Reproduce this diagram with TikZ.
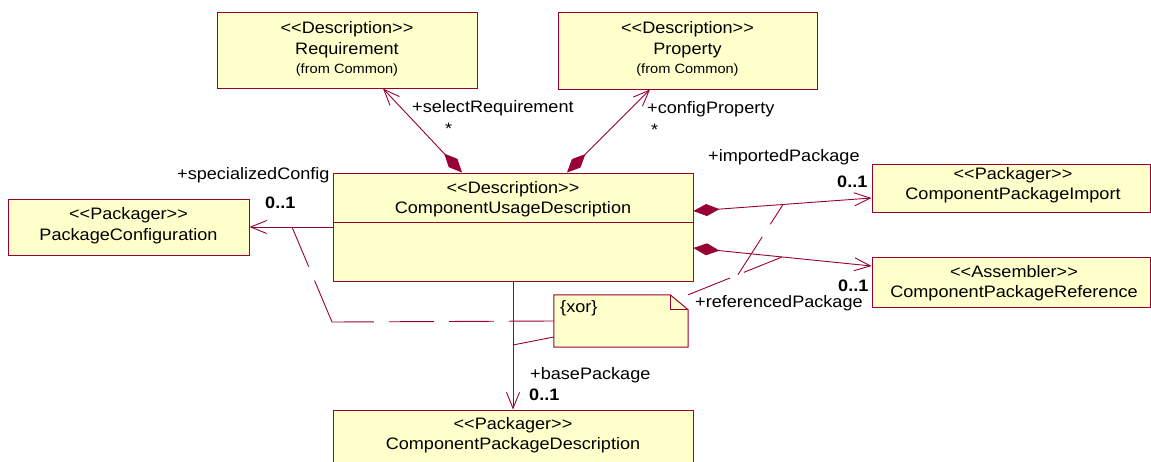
\documentclass[tikz,border=0pt]{standalone}
\usepackage{fontspec}
\setmainfont{Liberation Sans}[FakeStretch=1.09,Ligatures=TeXOff]
\usetikzlibrary{arrows.meta,calc}
\definecolor{umlline}{RGB}{153,0,51}
\definecolor{umlfill}{RGB}{255,255,204}

\begin{document}
\begin{tikzpicture}[x=1pt,y=-1pt,
  cls/.style={draw=umlline,fill=umlfill,line width=1pt,inner sep=0pt,rectangle},
  ctext/.style={align=center,inner sep=0pt,font=\fontsize{16.6}{20.5}\selectfont},
  lbl/.style={inner sep=0pt,anchor=west,font=\fontsize{16.6}{20}\selectfont},
  mult/.style={inner sep=0pt,anchor=west,font=\fontsize{16.6}{20}\selectfont\bfseries},
  conn/.style={draw=umlline,line width=0.9pt},
  assoc/.style={conn,-{Straight Barb[length=16pt,width=13pt]}},
  comp/.style={conn,{Diamond[length=26pt,width=12pt,fill=umlline]}-{Straight Barb[length=16pt,width=13pt]}},
  anchorline/.style={conn,dash pattern=on 45pt off 15pt},
]
\useasboundingbox (0,0) rectangle (1151,461);
\clip (0,0) rectangle (1151,461);

% class boxes
\node[cls,minimum width=260pt,minimum height=76pt] (req) at (347,50) {};
\node[cls,minimum width=259pt,minimum height=77pt] (prop) at (687.5,50.5) {};
\node[cls,minimum width=360pt,minimum height=108pt] (cud) at (513,227) {};
\node[cls,minimum width=241pt,minimum height=56pt] (pc) at (128.5,227) {};
\node[cls,minimum width=278pt,minimum height=48pt] (cpi) at (1011,188) {};
\node[cls,minimum width=278pt,minimum height=50pt] (cpr) at (1011,282) {};
\node[cls,minimum width=360pt,minimum height=60pt] (cpd) at (513,440) {};
\draw[umlline,line width=1pt] (cud.west |- 0,222) -- (cud.east |- 0,222);

% class names
\node[ctext] (reqname) at (347,49) {<<Description>>\\Requirement\\[-1pt]{\fontsize{13.4}{16}\selectfont (from Common)}};
\node[ctext] (propname) at (687.5,49) {<<Description>>\\Property\\[-1pt]{\fontsize{13.4}{16}\selectfont (from Common)}};
\node[ctext] (cudname) at (513,199) {<<Description>>\\ComponentUsageDescription};
\node[ctext] (pcname) at (128.5,225.5) {<<Packager>>\\PackageConfiguration};
\node[ctext] (cpiname) at (1013,185) {<<Packager>>\\ComponentPackageImport};
\node[ctext] (cprname) at (1014,283) {<<Assembler>>\\ComponentPackageReference};
\node[ctext] (cpdname) at (513,435) {<<Packager>>\\ComponentPackageDescription};

% note
\node[inner sep=0pt,minimum width=134pt,minimum height=52pt] (note) at (621,321) {};
\draw[umlline,fill=umlfill,line width=1pt]
  (note.north west) -- ($(note.north east)+(-18,0)$) -- ($(note.north east)+(0,15)$)
  -- (note.south east) -- (note.south west) -- cycle;
\draw[umlline,line width=1pt] ($(note.north east)+(-18,0)$) -- ($(note.north east)+(-18,15)$) -- ($(note.north east)+(0,15)$);
\node[lbl] (xor) at (560,308) {\{xor\}};

% associations
\draw[comp] (cud.north -| 462,0) -- (req.south -| 383,0);
\draw[comp] (cud.north -| 567,0) -- (prop.south -| 650,0);
\draw[comp] (cud.east |- 0,211) -- (cpi.west |- 0,198);
\draw[comp] (cud.east |- 0,248) -- (cpr.west |- 0,266);
\draw[assoc] (cud.west) -- (pc.east);
\draw[assoc] (cud.south) -- (cpd.north);

% role names and multiplicities
\node[lbl] (rsel) at (412,108) {+selectRequirement};
\node[lbl] (msel) at (445,129) {*};
\node[lbl] (rcfg) at (647,109) {+configProperty};
\node[lbl] (mcfg) at (651,130) {*};
\node[lbl] (rimp) at (708,157) {+importedPackage};
\node[mult] (mimp) at (837,182) {0..1};
\node[lbl] (rref) at (695,303) {+referencedPackage};
\node[mult] (mref) at (838,286) {0..1};
\node[lbl] (rspc) at (177,175) {+specializedConfig};
\node[mult] (mspc) at (265,203) {0..1};
\node[lbl] (rbase) at (530,375) {+basePackage};
\node[mult] (mbase) at (529,395) {0..1};

% note attachments
\coordinate (bend) at (332,322);
\coordinate (pcpt) at (292,227);
\coordinate (basept) at (513,345);
\coordinate (refpt) at (782,257);
\coordinate (imppt) at (783,204.5);
\coordinate (split) at ($(note.north east)!0.53!(refpt)$);
\draw[anchorline] (note.west) -- (bend);
\draw[anchorline] (bend) -- (pcpt);
\draw[conn] (note.west |- 0,337) -- (basept);
\draw[anchorline] (note.north east) -- (refpt);
\draw[anchorline] (split) -- (imppt);
\end{tikzpicture}
\end{document}
